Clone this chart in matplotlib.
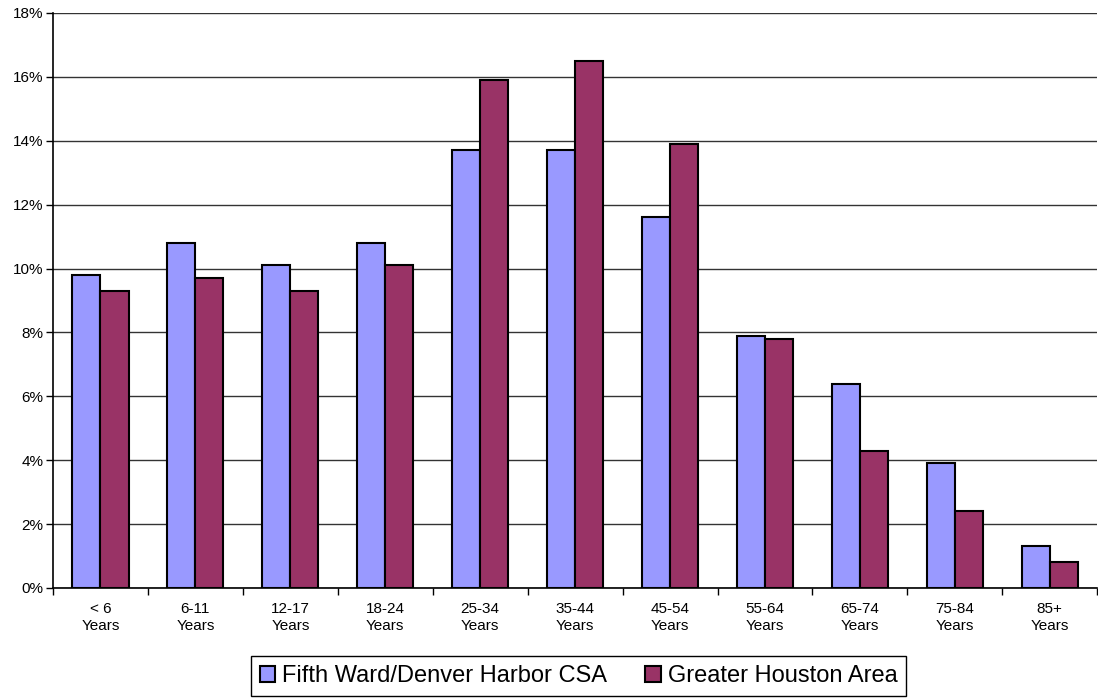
import matplotlib.pyplot as plt
import numpy as np
from matplotlib.ticker import FuncFormatter

plt.rcParams['font.family'] = ['Liberation Sans', 'DejaVu Sans']

# Données
categories = ['< 6\nYears', '6-11\nYears', '12-17\nYears', '18-24\nYears', '25-34\nYears',
              '35-44\nYears', '45-54\nYears', '55-64\nYears', '65-74\nYears',
              '75-84\nYears', '85+\nYears']
fifth_ward = [9.8, 10.8, 10.1, 10.8, 13.7, 13.7, 11.6, 7.9, 6.4, 3.9, 1.3]
houston = [9.3, 9.7, 9.3, 10.1, 15.9, 16.5, 13.9, 7.8, 4.3, 2.4, 0.8]
labels = ['Fifth Ward/Denver Harbor CSA', 'Greater Houston Area']

fig = plt.figure(figsize=(10.98, 6.98), dpi=100)
ax = fig.add_axes([0.0483, 0.1576, 0.951, 0.8238])

x = np.arange(len(categories))
w = 0.295
ax.bar(x - w / 2, fifth_ward, w, color='#9999ff', edgecolor='black', linewidth=1.5,
       label=labels[0], zorder=3)
ax.bar(x + w / 2, houston, w, color='#993366', edgecolor='black', linewidth=1.5,
       label=labels[1], zorder=3)

ax.set_xlim(-0.5, len(categories) - 0.5)
ax.set_ylim(0, 18)
ax.set_yticks(np.arange(0, 19, 2))
ax.yaxis.set_major_formatter(FuncFormatter(lambda v, p: '%d%%' % v))
ax.yaxis.grid(True, color='#333333', linewidth=1)
ax.set_axisbelow(True)

# ticks aux limites des catégories
ax.set_xticks(np.arange(-0.5, len(categories), 1))
ax.set_xticklabels([])
ax.set_xticks(x, minor=True)
ax.set_xticklabels(categories, minor=True, fontsize=11, linespacing=1.25)
ax.tick_params(axis='x', which='minor', length=0, pad=10)
ax.tick_params(axis='x', which='major', length=5, direction='out', width=1)
ax.tick_params(axis='y', length=5, width=1, labelsize=11, pad=2)

for s in ['top', 'right']:
    ax.spines[s].set_visible(False)
ax.spines['left'].set_linewidth(1.2)
ax.spines['bottom'].set_linewidth(1.2)

fig.legend(loc='lower center', bbox_to_anchor=(0.527, -0.014), ncol=2, fontsize=17,
           frameon=True, fancybox=False, edgecolor='black', framealpha=1,
           handlelength=0.65, handleheight=0.65, handletextpad=0.3, columnspacing=1.6,
           borderpad=0.38)

fig.savefig('out.png', dpi=100)
